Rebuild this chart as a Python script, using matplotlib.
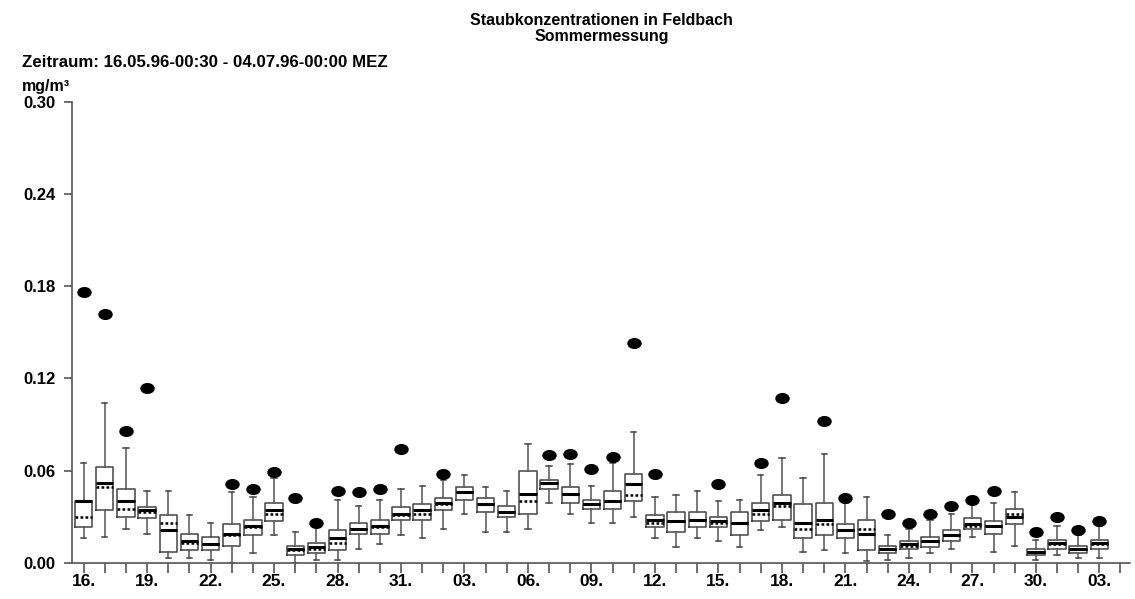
import matplotlib.pyplot as plt
import numpy as np
from matplotlib.path import Path
from matplotlib.transforms import Affine2D

plt.rcParams['font.family'] = ['Liberation Sans', 'DejaVu Sans']
plt.rcParams['font.weight'] = 'bold'

# daily statistics, 16.05.96 .. 03.07.96 (mg/m3)
days = ['16.', '17.', '18.', '19.', '20.', '21.', '22.', '23.', '24.', '25.',
        '26.', '27.', '28.', '29.', '30.', '31.', '01.', '02.', '03.', '04.',
        '05.', '06.', '07.', '08.', '09.', '10.', '11.', '12.', '13.', '14.',
        '15.', '16.', '17.', '18.', '19.', '20.', '21.', '22.', '23.', '24.',
        '25.', '26.', '27.', '28.', '29.', '30.', '01.', '02.', '03.', '04.']
whislo = [0.016, 0.017, 0.022, 0.019, 0.003, 0.003, 0.002, 0.000, 0.006, 0.018,
          0.000, 0.002, 0.002, 0.009, 0.012, 0.018, 0.016, 0.022, 0.032, 0.020,
          0.020, 0.022, 0.039, 0.032, 0.026, 0.026, 0.030, 0.016, 0.010, 0.016,
          0.014, 0.010, 0.021, 0.023, 0.007, 0.008, 0.006, 0.001, 0.002, 0.003,
          0.006, 0.009, 0.017, 0.007, 0.011, 0.002, 0.005, 0.003, 0.003]
q1 = [0.023, 0.034, 0.030, 0.029, 0.007, 0.008, 0.008, 0.011, 0.018, 0.027,
      0.005, 0.006, 0.008, 0.019, 0.019, 0.028, 0.028, 0.034, 0.041, 0.033,
      0.030, 0.032, 0.048, 0.039, 0.035, 0.035, 0.040, 0.023, 0.020, 0.023,
      0.023, 0.018, 0.027, 0.028, 0.016, 0.018, 0.016, 0.008, 0.006, 0.009,
      0.010, 0.014, 0.022, 0.019, 0.025, 0.005, 0.009, 0.006, 0.009]
med = [0.040, 0.052, 0.040, 0.034, 0.021, 0.014, 0.012, 0.019, 0.024, 0.034,
       0.009, 0.010, 0.016, 0.022, 0.024, 0.032, 0.034, 0.039, 0.046, 0.038,
       0.033, 0.045, 0.052, 0.045, 0.038, 0.040, 0.051, 0.028, 0.027, 0.028,
       0.027, 0.026, 0.034, 0.039, 0.026, 0.028, 0.021, 0.019, 0.009, 0.012,
       0.014, 0.018, 0.025, 0.024, 0.030, 0.007, 0.013, 0.009, 0.013]
mean = [0.030, 0.049, 0.035, 0.033, 0.026, 0.013, 0.012, 0.018, 0.023, 0.032,
        0.008, 0.009, 0.013, 0.022, 0.023, 0.031, 0.032, 0.038, 0.046, 0.038,
        0.033, 0.040, 0.052, 0.045, 0.038, 0.040, 0.044, 0.026, 0.027, 0.028,
        0.026, 0.026, 0.032, 0.037, 0.022, 0.025, 0.021, 0.022, 0.009, 0.011,
        0.014, 0.018, 0.024, 0.024, 0.032, 0.007, 0.012, 0.009, 0.012]
q3 = [0.040, 0.062, 0.048, 0.036, 0.031, 0.019, 0.017, 0.025, 0.028, 0.039,
      0.011, 0.013, 0.021, 0.026, 0.028, 0.036, 0.038, 0.042, 0.049, 0.042,
      0.037, 0.060, 0.054, 0.049, 0.041, 0.047, 0.058, 0.031, 0.033, 0.033,
      0.030, 0.033, 0.039, 0.044, 0.038, 0.039, 0.025, 0.028, 0.011, 0.014,
      0.017, 0.021, 0.029, 0.027, 0.035, 0.009, 0.015, 0.011, 0.015]
whishi = [0.065, 0.104, 0.075, 0.047, 0.047, 0.031, 0.026, 0.046, 0.043, 0.055,
          0.020, 0.023, 0.041, 0.037, 0.041, 0.048, 0.050, 0.054, 0.057, 0.049,
          0.047, 0.077, 0.063, 0.064, 0.050, 0.065, 0.085, 0.043, 0.044, 0.047,
          0.040, 0.041, 0.057, 0.068, 0.055, 0.071, 0.039, 0.043, 0.018, 0.022,
          0.028, 0.032, 0.038, 0.039, 0.046, 0.015, 0.024, 0.018, 0.024]
maxv = [0.176, 0.162, 0.086, 0.114, None, None, None, 0.051, 0.048, 0.059,
        0.042, 0.026, 0.047, 0.046, 0.048, 0.074, None, 0.058, None, None,
        None, None, 0.070, 0.071, 0.061, 0.069, 0.143, 0.058, None, None,
        0.051, None, 0.065, 0.107, None, 0.092, 0.042, None, 0.032, 0.026,
        0.032, 0.037, 0.041, 0.047, None, 0.020, 0.030, 0.021, 0.027]

stats = []
for i in range(len(med)):
    stats.append({'whislo': whislo[i], 'q1': q1[i], 'med': med[i], 'mean': mean[i],
                  'q3': q3[i], 'whishi': whishi[i], 'fliers': []})

fig = plt.figure(figsize=(11.35, 5.99), dpi=100)
ax = fig.add_axes([0.0634, 0.0606, 0.9322, 0.7691])

pos = np.arange(len(med))
ax.bxp(stats, positions=pos, widths=0.82, showmeans=True, meanline=True,
       showfliers=False, capwidths=0.25, manage_ticks=False,
       boxprops=dict(color='#444444', linewidth=1.1),
       whiskerprops=dict(color='#555555', linewidth=1.1),
       capprops=dict(color='#444444', linewidth=1.1),
       medianprops=dict(color='black', linewidth=2.2, solid_capstyle='butt'),
       meanprops=dict(color='black', linewidth=1.8, linestyle=(0, (1.1, 0.9))))

# ellipse marker for daily maximum
ell = Path.unit_circle().transformed(Affine2D().scale(1.35, 1.0))
mx = [i for i, v in enumerate(maxv) if v is not None]
my = [v for v in maxv if v is not None]
ax.plot(mx, my, linestyle='none', marker=ell, markersize=9.4, color='black')

ax.set_xlim(-0.55, 49.45)
ax.set_ylim(0, 0.30)
ax.set_yticks([0.0, 0.06, 0.12, 0.18, 0.24, 0.30])
ax.set_yticklabels(['0.00', '0.06', '0.12', '0.18', '0.24', '0.30'])
ax.set_xticks(np.arange(len(days)))
ax.set_xticklabels([d if i % 3 == 0 and i < 49 else '' for i, d in enumerate(days)])

for s in ['top', 'right']:
    ax.spines[s].set_visible(False)
for s in ['left', 'bottom']:
    ax.spines[s].set_color('#555555')
    ax.spines[s].set_linewidth(1.2)
ax.tick_params(axis='y', direction='out', length=6, width=1.2, color='#555555',
               pad=6, labelsize=12)
ax.tick_params(axis='x', direction='out', length=7, width=1.2, color='#555555',
               pad=1, labelsize=12.5)
for lab in ax.get_xticklabels() + ax.get_yticklabels():
    lab.set_fontweight('bold')

fig.text(0.530, 0.952, 'Staubkonzentrationen in Feldbach\nSommermessung',
         ha='center', va='center', fontsize=11.5, fontweight='bold', linespacing=1.1)
fig.text(0.019, 0.895, 'Zeitraum: 16.05.96-00:30 - 04.07.96-00:00 MEZ',
         ha='left', va='center', fontsize=12.2, fontweight='bold')
fig.text(0.019, 0.856, 'mg/m³', ha='left', va='center', fontsize=11.5, fontweight='bold')

fig.savefig('out.png', dpi=100)
